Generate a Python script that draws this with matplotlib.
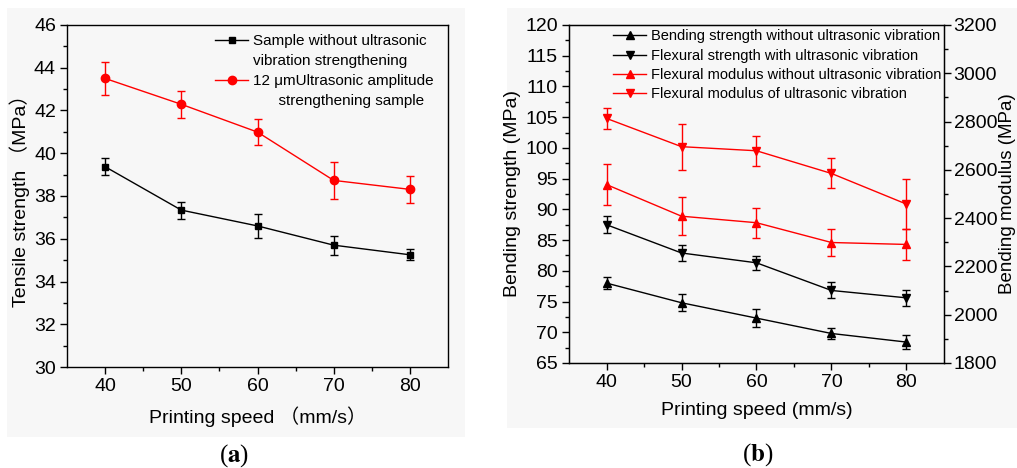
import numpy as np
from matplotlib import pyplot as plt
from matplotlib.lines import Line2D
from matplotlib.patches import Rectangle

# data
speed = [40, 50, 60, 70, 80]

tensile_plain = [39.37, 37.34, 36.60, 35.70, 35.25]
tensile_plain_err = [0.40, 0.40, 0.56, 0.44, 0.26]
tensile_us = [43.50, 42.29, 40.99, 38.73, 38.31]
tensile_us_err = [0.78, 0.62, 0.61, 0.85, 0.62]

bend_plain = [78.0, 74.8, 72.3, 69.8, 68.4]
bend_plain_err = [1.0, 1.4, 1.5, 0.9, 1.2]
bend_us = [87.5, 82.9, 81.3, 76.8, 75.6]
bend_us_err = [1.4, 1.35, 1.1, 1.3, 1.3]

mod_plain = [2539, 2408, 2381, 2299, 2291]
mod_plain_err = [85, 78, 63, 55, 64]
mod_us = [2813, 2696, 2679, 2585, 2458]
mod_us_err = [45, 95, 63, 62, 105]

plt.rcParams['font.family'] = ['Liberation Sans', 'Noto Sans CJK SC', 'DejaVu Sans']

fig = plt.figure(figsize=(10.17, 4.68), dpi=100, facecolor='white')
fig.patches.append(Rectangle((7/1017, 1-437/468), 458/1017, 429/468, transform=fig.transFigure,
                             facecolor='#f7f7f7', edgecolor='none', zorder=-10))
fig.patches.append(Rectangle((507/1017, 1-428/468), 510/1017, 420/468, transform=fig.transFigure,
                             facecolor='#f7f7f7', edgecolor='none', zorder=-10))

def style(ax):
    ax.set_facecolor('#f7f7f7')
    ax.tick_params(direction='out', length=5, width=1, labelsize=14, pad=3)
    ax.tick_params(which='minor', direction='out', length=3, width=1)
    for s in ax.spines.values():
        s.set_linewidth(1)
    ax.set_xlim(35, 85)
    ax.set_xticks(speed)
    ax.set_xticks([45, 55, 65, 75], minor=True)

eb = dict(lw=1, capsize=3, elinewidth=1, capthick=1)

# ---- (a)
ax1 = fig.add_axes([0.0659, 0.2158, 0.3746, 0.7308])
style(ax1)
ax1.errorbar(speed, tensile_plain, yerr=tensile_plain_err, color='black', marker='s', ms=5, **eb)
ax1.errorbar(speed, tensile_us, yerr=tensile_us_err, color='red', marker='o', ms=6, **eb)
ax1.set_ylim(30, 46)
ax1.set_yticks(np.arange(30, 47, 2))
ax1.set_yticks(np.arange(31, 46, 1), minor=True)
ax1.set_ylabel('Tensile strength （MPa）', fontsize=14, labelpad=3)
ax1.set_xlabel('Printing speed （mm/s）', fontsize=14, labelpad=8)
blank = Line2D([], [], lw=0)
h1 = [Line2D([], [], color='black', marker='s', ms=5, lw=1), blank,
      Line2D([], [], color='red', marker='o', ms=6, lw=1), blank]
ax1.legend(h1, ['Sample without ultrasonic', 'vibration strengthening',
                '12 μmUltrasonic amplitude', '      strengthening sample'],
           loc='upper left', frameon=False, fontsize=11, handlelength=2.2,
           handletextpad=0.3, labelspacing=0.4, borderaxespad=0, borderpad=0,
           bbox_to_anchor=(0.388, 0.974))

# ---- (b)
ax2 = fig.add_axes([0.5595, 0.2244, 0.3687, 0.7222])
style(ax2)
ax3 = ax2.twinx()
ax3.tick_params(direction='out', length=5, width=1, labelsize=14, pad=2)
ax3.tick_params(which='minor', direction='out', length=3, width=1)
ax2.errorbar(speed, bend_plain, yerr=bend_plain_err, color='black', marker='^', ms=6, **eb)
ax2.errorbar(speed, bend_us, yerr=bend_us_err, color='black', marker='v', ms=6, **eb)
ax3.errorbar(speed, mod_plain, yerr=mod_plain_err, color='red', marker='^', ms=6, **eb)
ax3.errorbar(speed, mod_us, yerr=mod_us_err, color='red', marker='v', ms=6, **eb)
ax2.set_ylim(65, 120)
ax2.set_yticks(np.arange(65, 121, 5))
ax2.set_yticks(np.arange(67.5, 120, 5), minor=True)
ax3.set_ylim(1800, 3200)
ax3.set_yticks(np.arange(1800, 3201, 200))
ax3.set_yticks(np.arange(1900, 3200, 200), minor=True)
ax2.set_ylabel('Bending strength (MPa)', fontsize=14, labelpad=3)
ax3.set_ylabel('Bending modulus (MPa)', fontsize=13.5, labelpad=1)
ax2.set_xlabel('Printing speed (mm/s)', fontsize=14, labelpad=8)
h2 = [Line2D([], [], color='black', marker='^', ms=6, lw=1),
      Line2D([], [], color='black', marker='v', ms=6, lw=1),
      Line2D([], [], color='red', marker='^', ms=6, lw=1),
      Line2D([], [], color='red', marker='v', ms=6, lw=1)]
ax2.legend(h2, ['Bending strength without ultrasonic vibration',
                'Flexural strength with ultrasonic vibration',
                'Flexural modulus without ultrasonic vibration',
                'Flexural modulus of ultrasonic vibration'],
           loc='upper left', frameon=False, fontsize=10.5, handlelength=2.3,
           handletextpad=0.3, labelspacing=0.36, borderaxespad=0, borderpad=0,
           bbox_to_anchor=(0.117, 0.987))

# panel letters
fig.text(234/1017, 1-456/468, r'($\mathbf{a}$)', ha='center', va='center',
         fontsize=18, family='Liberation Serif', math_fontfamily='stix')
fig.text(758/1017, 1-455/468, r'($\mathbf{b}$)', ha='center', va='center',
         fontsize=18, family='Liberation Serif', math_fontfamily='stix')

fig.savefig('out.png', dpi=100, facecolor='white')
